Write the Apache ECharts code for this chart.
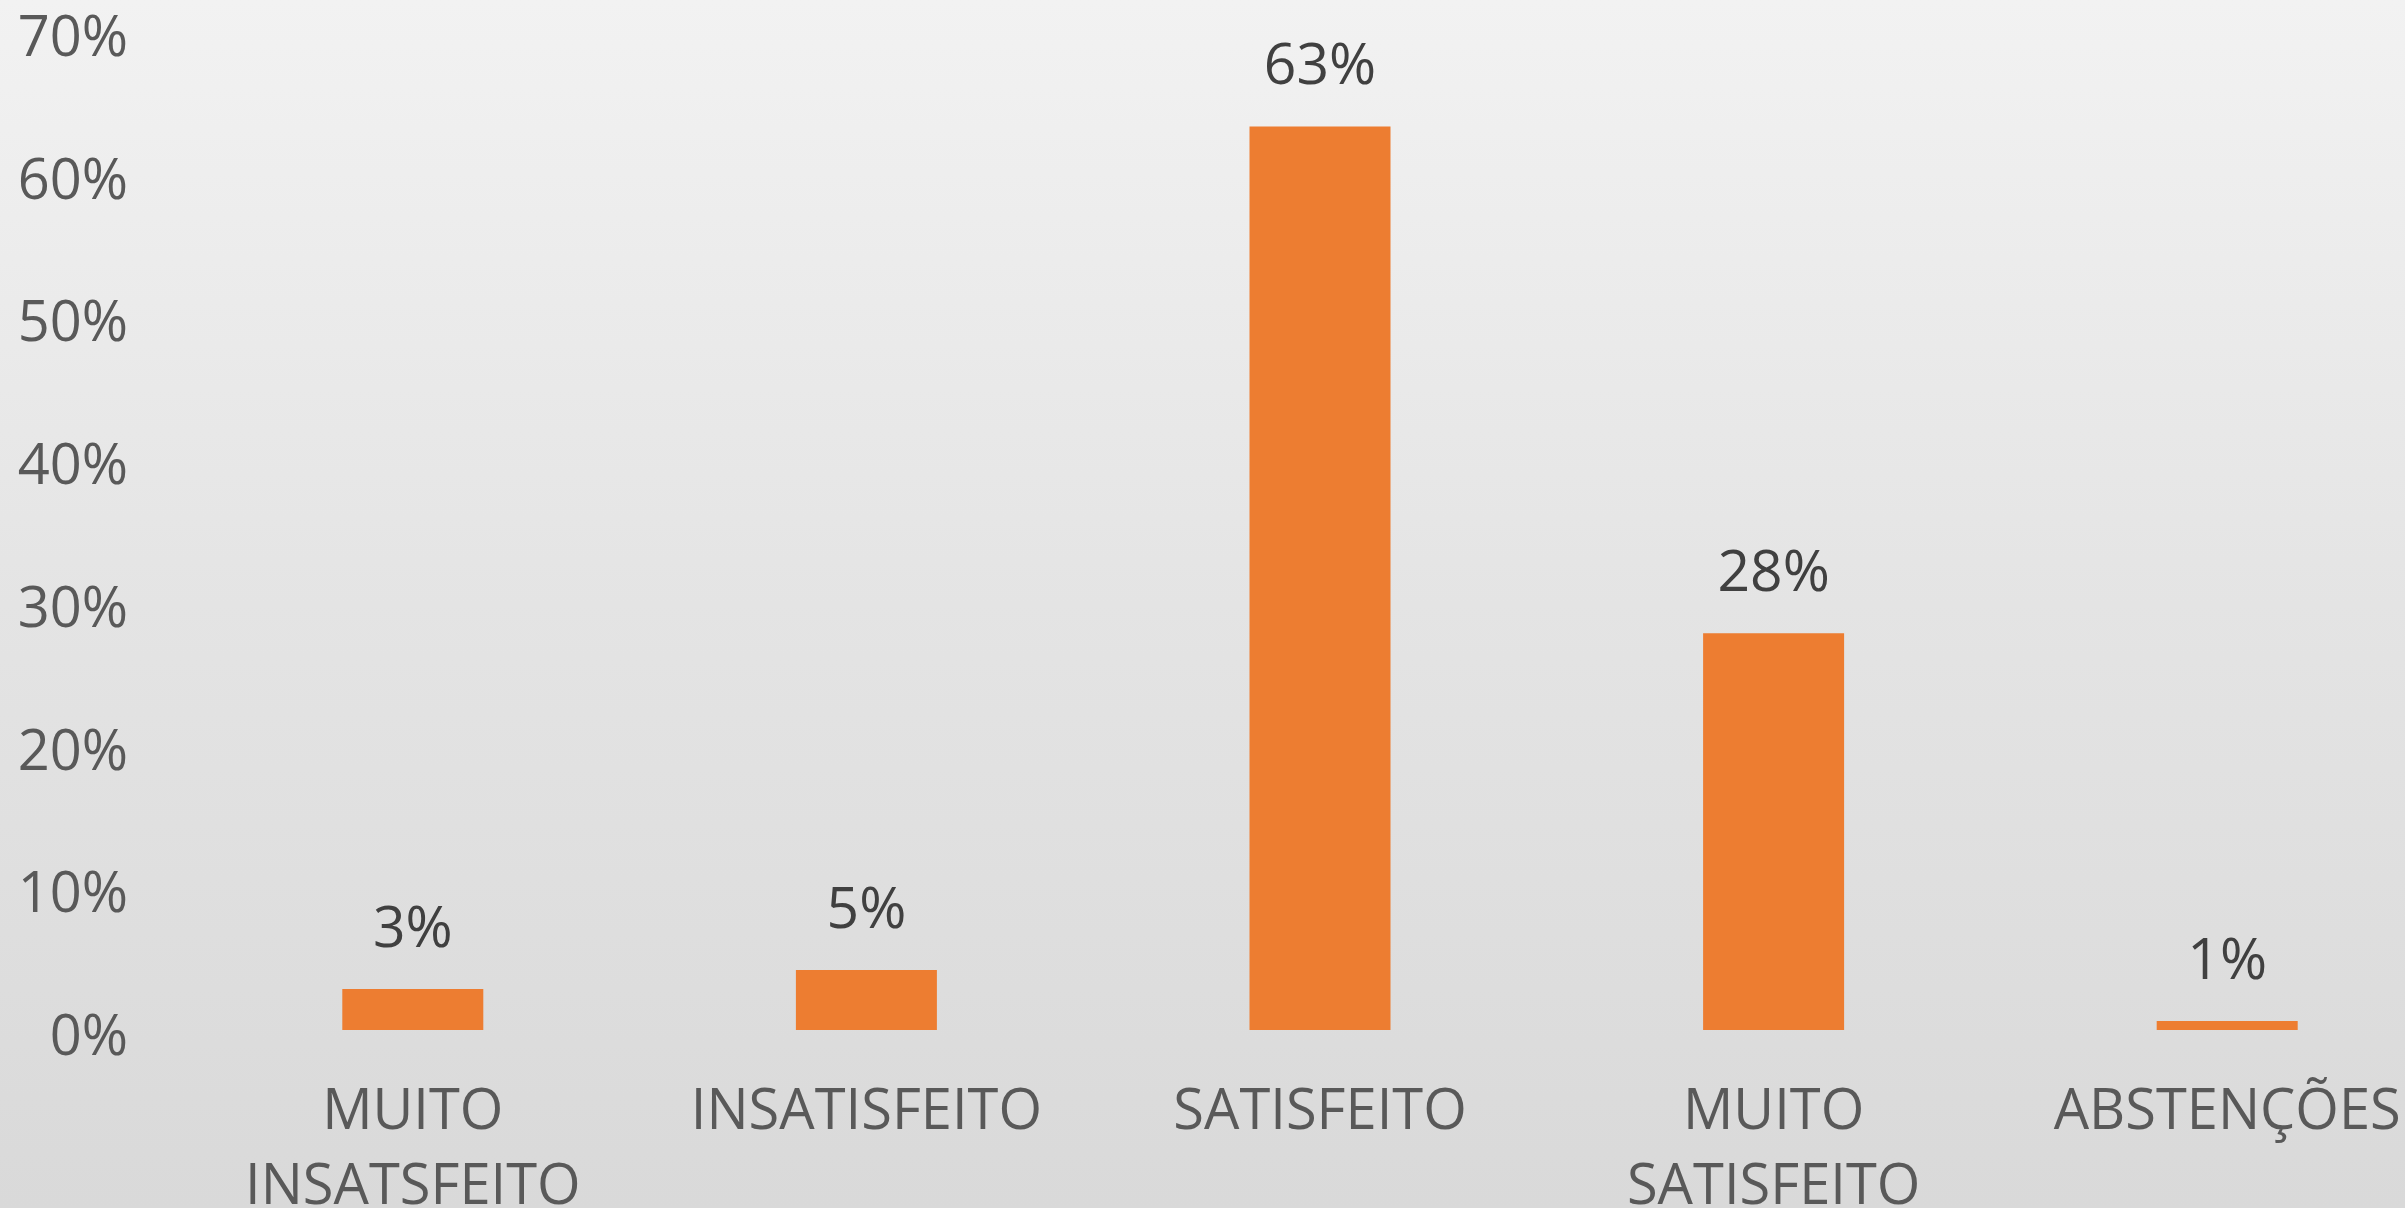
<!DOCTYPE html>
<html>
<head>
<meta charset="utf-8">
<script src="https://cdn.jsdelivr.net/npm/echarts@6/dist/echarts.min.js"></script>
<style>
  html, body { margin: 0; padding: 0; }
  #chart { width: 2405px; height: 1208px; }
</style>
</head>
<body>
<div id="chart"></div>
<script>
// grau de satisfação
var categories = ['MUITO\nINSATSFEITO', 'INSATISFEITO', 'SATISFEITO', 'MUITO\nSATISFEITO', 'ABSTENÇÕES'];
var values = [2.87, 4.2, 63.3, 27.8, 0.63];
var valueLabels = ['3%', '5%', '63%', '28%', '1%'];
var yTicks = [0, 70, 10]; // min, max, interval

function showChart() {
    var option = {
        backgroundColor: {
            type: 'linear', x: 0, y: 0, x2: 0, y2: 1,
            colorStops: [
                { offset: 0, color: '#f2f2f2' },
                { offset: 0.5, color: '#e4e4e4' },
                { offset: 1, color: '#d9d9d9' }
            ]
        },
        textStyle: { fontFamily: 'Open Sans' },
        grid: {
            left: 186,
            width: 2268,
            top: 31,
            bottom: 178,
            containLabel: false,
            outerBoundsMode: 'none'
        },
        xAxis: {
            type: 'category',
            data: categories,
            axisLine: { show: false },
            axisTick: { show: false },
            axisLabel: {
                interval: 0,
                margin: 46,
                fontSize: 56,
                lineHeight: 75,
                color: '#595959'
            }
        },
        yAxis: {
            type: 'value',
            min: yTicks[0],
            max: yTicks[1],
            interval: yTicks[2],
            splitLine: { show: false },
            axisLine: { show: false },
            axisTick: { show: false },
            axisLabel: {
                formatter: '{value}%',
                margin: 58,
                fontSize: 56,
                verticalAlign: 'top',
                lineHeight: 18,
                color: '#595959'
            }
        },
        series: [{
            type: 'bar',
            data: values,
            barWidth: 141,
            itemStyle: { color: '#ED7D31' },
            label: {
                show: true,
                position: 'top',
                distance: 30,
                fontSize: 57,
                color: '#404040',
                formatter: function (p) {
                    return valueLabels[p.dataIndex];
                }
            }
        }]
    };
    var chart = echarts.init(document.getElementById('chart'));
    chart.setOption(option);
}
showChart();
</script>
</body>
</html>
